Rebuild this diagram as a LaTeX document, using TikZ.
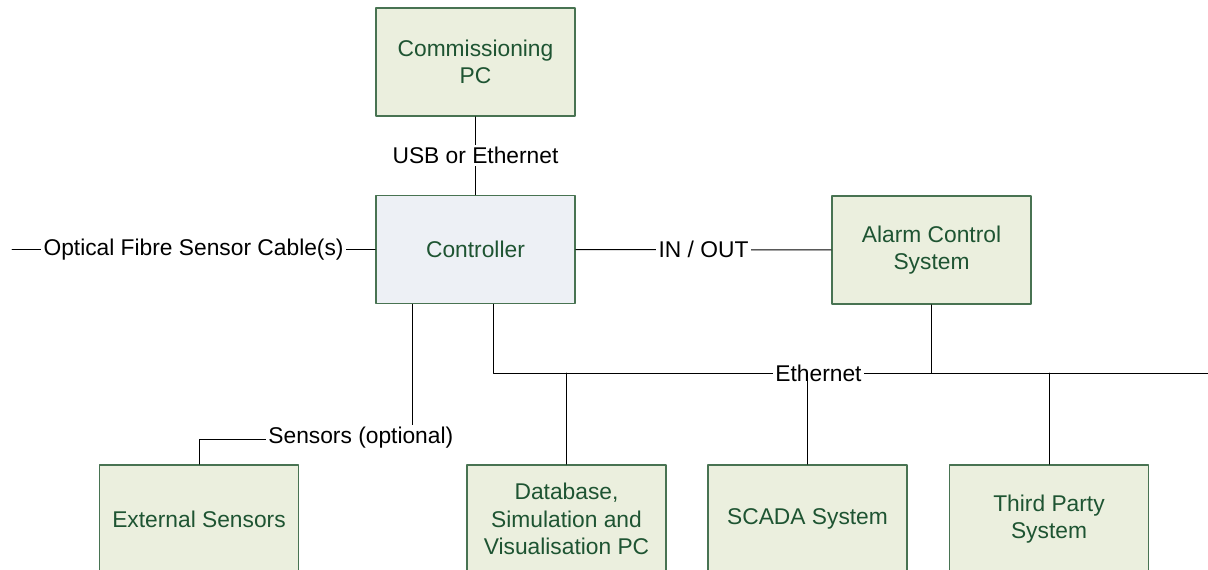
\documentclass[tikz,border=0pt]{standalone}
\usepackage{fontspec}
\setmainfont{Liberation Sans}
\definecolor{boxfill}{RGB}{235,239,222}
\definecolor{ctrlfill}{RGB}{237,240,245}
\definecolor{boxline}{RGB}{72,115,82}
\definecolor{boxtext}{RGB}{30,84,50}
\tikzset{
  unit/.style={draw=boxline, line width=1.2pt, fill=boxfill, text=boxtext,
    minimum width=4.975cm, minimum height=2.7cm, inner sep=0pt, align=center,
    font=\fontsize{16.2}{19.5}\selectfont},
  link/.style={fill=white, inner sep=1.5pt, font=\fontsize{16.2}{19.5}\selectfont},
  wire/.style={line width=0.7pt},
}
\begin{document}
\begin{tikzpicture}[x=0.025cm,y=-0.025cm,line cap=round,line join=round]
  \useasboundingbox (0,0) rectangle (1208,570);
  \clip (0,0) rectangle (1208,570);
  \coordinate (fibreEnd) at (12,249.5);
  \coordinate (busEnd) at (1208,373);
  % units
  \node[unit] (pc) at (475.5,62) {Commissioning\\PC};
  \node[unit, fill=ctrlfill] (ctrl) at (475.5,249.5) {Controller};
  \node[unit] (alarm) at (931.5,250) {Alarm Control\\System};
  \node[unit] (ext) at (199,519) {External Sensors};
  \node[unit] (db) at (566.5,519) {Database,\\Simulation and\\Visualisation PC};
  \node[unit] (scada) at (807.5,519) {SCADA System};
  \node[unit] (third) at (1049,519) {Third Party\\System};
  % links
  \draw[wire] (pc) -- (ctrl) node[midway, link] (usbLbl) {USB or Ethernet};
  \draw[wire] (fibreEnd) -- (ctrl.west) node[midway, link] (fibreLbl) {Optical Fibre Sensor Cable(s)};
  \draw[wire] (ctrl) -- (alarm) node[midway, link] (ioLbl) {IN / OUT};
  \draw[wire] ([xshift=-1.5625cm]ctrl.south) -- ++(0,135) -| (ext.north);
  \node[link, anchor=west] (sensLbl) at (266,438) {Sensors (optional)};
  % ethernet bus
  \draw[wire] ([xshift=0.4375cm]ctrl.south) |- (busEnd);
  \node[link] (busLbl) at (818.5,373) {Ethernet};
  \draw[wire] (alarm.south) -- (alarm.south |- busEnd);
  \draw[wire] (db.north) -- (db.north |- busEnd);
  \draw[wire] (scada.north) -- (scada.north |- busEnd);
  \draw[wire] (third.north) -- (third.north |- busEnd);
\end{tikzpicture}
\end{document}
